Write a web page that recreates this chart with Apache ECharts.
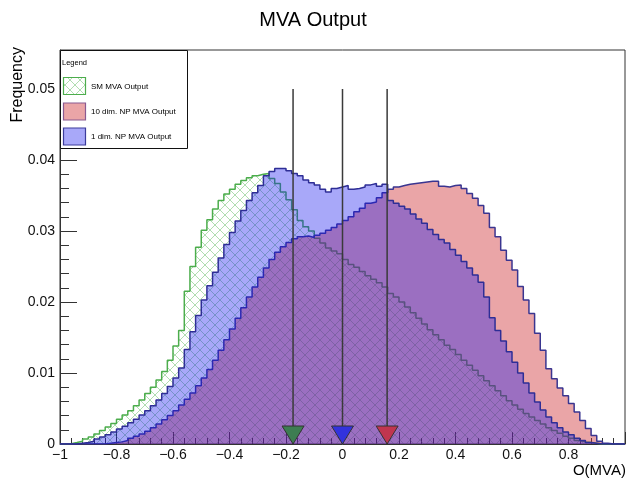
<!DOCTYPE html>
<html><head><meta charset="utf-8">
<script src="https://cdn.jsdelivr.net/npm/echarts@6/dist/echarts.min.js"></script>
<style>html,body{margin:0;padding:0;background:#fff}#c{width:626px;height:485px}</style>
</head><body><div id="c"></div>
<script>
// histogram binning: 100 bins over [-1, 1]
const binLow = -1;
const binWidth = 0.02;

const seriesNames = ['SM MVA Output', '10 dim. NP MVA Output', '1 dim. NP MVA Output'];

const smValues = [0, 0.00005, 0.0002, 0.0004, 0.0007, 0.0010, 0.0014, 0.0019, 0.0024, 0.0029,
0.0035, 0.0041, 0.0047, 0.0054, 0.0062, 0.0071, 0.0080, 0.0090, 0.0102, 0.0118,
0.0138, 0.0160, 0.0215, 0.0250, 0.0277, 0.0301, 0.0316, 0.0331, 0.0343, 0.0352,
0.0359, 0.0366, 0.0371, 0.0375, 0.0378, 0.0380, 0.0381, 0.0374, 0.0367, 0.0355,
0.0344, 0.0330, 0.0315, 0.0306, 0.0300, 0.0290, 0.0283, 0.0276, 0.0272, 0.0268,
0.0260, 0.0253, 0.0249, 0.0243, 0.0237, 0.0232, 0.0227, 0.0221, 0.0212, 0.0207,
0.0200, 0.0193, 0.0185, 0.0177, 0.0169, 0.0161, 0.0154, 0.0147, 0.0139, 0.0133,
0.0126, 0.0118, 0.0111, 0.0104, 0.0096, 0.0089, 0.0082, 0.0075, 0.0068, 0.0061,
0.0055, 0.0049, 0.0043, 0.0038, 0.0033, 0.0028, 0.0023, 0.0019, 0.0015, 0.0011,
0.0008, 0.0005, 0.0003, 0.0002, 0.0001, 0, 0, 0, 0, 0];

const np10Values = [0, 0, 0, 0, 0, 0, 0, 0, 0.0001, 0.0002,
0.0003, 0.0005, 0.0008, 0.0011, 0.0014, 0.0018, 0.0023, 0.0028, 0.0034, 0.0040,
0.0047, 0.0055, 0.0063, 0.0072, 0.0082, 0.0093, 0.0105, 0.0118, 0.0132, 0.0147,
0.0162, 0.0177, 0.0192, 0.0207, 0.0221, 0.0235, 0.0248, 0.0260, 0.0270, 0.0278,
0.0284, 0.0289, 0.0292, 0.0293, 0.0291, 0.0294, 0.0297, 0.0301, 0.0305, 0.0310,
0.0315, 0.0320, 0.0327, 0.0332, 0.0339, 0.0341, 0.0347, 0.0354, 0.0359, 0.0362,
0.0364, 0.0366, 0.0367, 0.0368, 0.0369, 0.0370, 0.0370, 0.0363, 0.0362, 0.0364,
0.0365, 0.0360, 0.0353, 0.0346, 0.0336, 0.0325, 0.0305, 0.0292, 0.0273, 0.0259,
0.0245, 0.0222, 0.0203, 0.0184, 0.0156, 0.0132, 0.0106, 0.0092, 0.0079, 0.0068,
0.0057, 0.0045, 0.0033, 0.0022, 0.0012, 0.0004, 0.0001, 0, 0, 0];

const np1Values = [0, 0, 0, 0.0001, 0.0002, 0.0004, 0.0007, 0.0010, 0.0013, 0.0017,
0.0021, 0.0025, 0.0030, 0.0035, 0.0041, 0.0047, 0.0054, 0.0062, 0.0071, 0.0081,
0.0093, 0.0107, 0.0133, 0.0158, 0.0181, 0.0203, 0.0223, 0.0242, 0.0262, 0.0281,
0.0298, 0.0314, 0.0329, 0.0343, 0.0354, 0.0364, 0.0378, 0.0384, 0.0388, 0.0388,
0.0385, 0.0381, 0.0378, 0.0372, 0.0368, 0.0365, 0.0359, 0.0355, 0.0360, 0.0362,
0.0364, 0.0359, 0.0360, 0.0362, 0.0365, 0.0367, 0.0363, 0.0366, 0.0343, 0.0339,
0.0335, 0.0331, 0.0324, 0.0317, 0.0311, 0.0302, 0.0295, 0.0288, 0.0283, 0.0274,
0.0266, 0.0257, 0.0248, 0.0238, 0.0228, 0.0207, 0.0178, 0.0160, 0.0145, 0.0130,
0.0115, 0.0100, 0.0086, 0.0072, 0.0059, 0.0048, 0.0038, 0.0030, 0.0023, 0.0017,
0.0013, 0.0008, 0.0005, 0.0002, 0.0001, 0, 0, 0, 0, 0];

// vertical marker arrows (SM, 1 dim NP, 10 dim NP)
const arrowPositions = [-0.175, 0.0, 0.158];
const arrowTop = 0.05;
const arrowColors = ['#3d7d52', '#3232dd', '#c0354f'];

const FONT = '"Liberation Sans", Arial, Helvetica, sans-serif';

function stepData(vals) {
  const d = vals.map((v, i) => [+(binLow + i * binWidth).toFixed(4), v]);
  d.push([+(binLow + vals.length * binWidth).toFixed(4), 0]);
  return d;
}

function hatchCanvas(color) {
  const c = document.createElement('canvas');
  c.width = 10; c.height = 10;
  const g = c.getContext('2d');
  g.strokeStyle = color; g.lineWidth = 1;
  g.beginPath();
  g.moveTo(-1, -1); g.lineTo(11, 11);
  g.moveTo(11, -1); g.lineTo(-1, 11);
  g.stroke();
  return c;
}
const hatch = hatchCanvas('rgba(70,175,70,0.42)');

const fmtMinus = v => String(+(+v).toFixed(3)).replace('-', '\u2212');

const chart = echarts.init(document.getElementById('c'), null, {renderer: 'canvas'});
chart.setOption({
  animation: false,
  backgroundColor: '#fff',
  title: {
    text: 'MVA Output', left: 'center', top: 5,
    textStyle: {fontSize: 20, fontWeight: 'normal', fontFamily: FONT, color: '#000'}
  },
  grid: {left: 60, right: 1, top: 50, bottom: 41, show: true, borderColor: '#333', borderWidth: 1, backgroundColor: 'transparent'},
  xAxis: {
    type: 'value', min: -1, max: 1, interval: 0.2,
    axisLine: {show: true, onZero: false, lineStyle: {color: '#333', width: 1}},
    axisTick: {show: true, inside: true, length: 12, lineStyle: {color: '#333'}},
    minorTick: {show: true, splitNumber: 5, length: 6, lineStyle: {color: '#333'}},
    splitLine: {show: false},
    axisLabel: {fontSize: 14, fontFamily: FONT, color: '#111', margin: 4, showMaxLabel: false, formatter: fmtMinus}
  },
  yAxis: {
    type: 'value', min: 0, max: 0.0555, interval: 0.01,
    axisLine: {show: true, onZero: false, lineStyle: {color: '#333', width: 1}},
    axisTick: {show: true, inside: true, length: 17, lineStyle: {color: '#333'}},
    minorTick: {show: true, splitNumber: 5, length: 9, lineStyle: {color: '#333'}},
    splitLine: {show: false},
    axisLabel: {fontSize: 14, fontFamily: FONT, color: '#111', margin: 5, showMaxLabel: false, formatter: fmtMinus}
  },
  series: [
    {
      name: seriesNames[0], type: 'line', step: 'end', data: stepData(smValues),
      showSymbol: false, symbol: 'none', z: 2,
      lineStyle: {color: '#4cad4c', width: 1.5},
      areaStyle: {color: {image: hatch, repeat: 'repeat'}, opacity: 1}
    },
    {
      name: seriesNames[1], type: 'line', step: 'end', data: stepData(np10Values),
      showSymbol: false, symbol: 'none', z: 3,
      lineStyle: {color: '#3a3590', width: 1.5},
      areaStyle: {color: 'rgba(205,40,45,0.42)', opacity: 1}
    },
    {
      name: seriesNames[2], type: 'line', step: 'end', data: stepData(np1Values),
      showSymbol: false, symbol: 'none', z: 4,
      lineStyle: {color: '#2e2e96', width: 1.5},
      areaStyle: {color: 'rgba(20,20,240,0.37)', opacity: 1}
    },
    {
      type: 'custom', z: 10, silent: true,
      data: arrowPositions.map(x => [x, arrowTop]),
      encode: {x: 0, y: 1},
      renderItem: function (params, api) {
        const x = api.value(0);
        const top = api.coord([x, api.value(1)]);
        const bot = api.coord([x, 0]);
        const col = arrowColors[params.dataIndex];
        return {
          type: 'group',
          children: [
            {type: 'line', shape: {x1: top[0], y1: top[1], x2: bot[0], y2: bot[1]}, style: {stroke: '#3a3a3a', lineWidth: 1.5}},
            {type: 'polygon', shape: {points: [[bot[0] - 11, bot[1] - 18], [bot[0] + 11, bot[1] - 18], [bot[0], bot[1]]]},
             style: {fill: col, stroke: '#333', lineWidth: 1}}
          ]
        };
      }
    }
  ],
  graphic: [
    {type: 'text', x: 18, y: 47, rotation: Math.PI / 2, z: 100,
     style: {text: 'Frequency', font: '16px ' + FONT, fill: '#000', align: 'right', verticalAlign: 'middle'}},
    {type: 'text', x: 626, y: 471, z: 100,
     style: {text: 'O(MVA)', font: '15px ' + FONT, fill: '#000', align: 'right', verticalAlign: 'middle'}},
    {type: 'rect', z: 100, shape: {x: 60.5, y: 50.5, width: 127, height: 98},
     style: {fill: '#fff', stroke: '#111', lineWidth: 1}},
    {type: 'text', x: 62, y: 63, z: 101,
     style: {text: 'Legend', font: '7.5px ' + FONT, fill: '#000', align: 'left', verticalAlign: 'middle'}},
    {type: 'rect', z: 101, shape: {x: 63.5, y: 77.5, width: 22, height: 17},
     style: {fill: {image: hatch, repeat: 'repeat'}, stroke: '#4cad4c', lineWidth: 1.2}},
    {type: 'text', x: 91, y: 86.5, z: 101,
     style: {text: seriesNames[0], font: '8px ' + FONT, fill: '#000', align: 'left', verticalAlign: 'middle'}},
    {type: 'rect', z: 101, shape: {x: 63.5, y: 103, width: 22, height: 17},
     style: {fill: 'rgba(205,40,45,0.42)', stroke: '#8a5a92', lineWidth: 1.2}},
    {type: 'text', x: 91, y: 111.5, z: 101,
     style: {text: seriesNames[1], font: '8px ' + FONT, fill: '#000', align: 'left', verticalAlign: 'middle'}},
    {type: 'rect', z: 101, shape: {x: 63.5, y: 128, width: 22, height: 17},
     style: {fill: 'rgba(20,20,240,0.37)', stroke: '#3c3c9c', lineWidth: 1.2}},
    {type: 'text', x: 91, y: 137, z: 101,
     style: {text: seriesNames[2], font: '8px ' + FONT, fill: '#000', align: 'left', verticalAlign: 'middle'}}
  ]
});
</script>
</body></html>
